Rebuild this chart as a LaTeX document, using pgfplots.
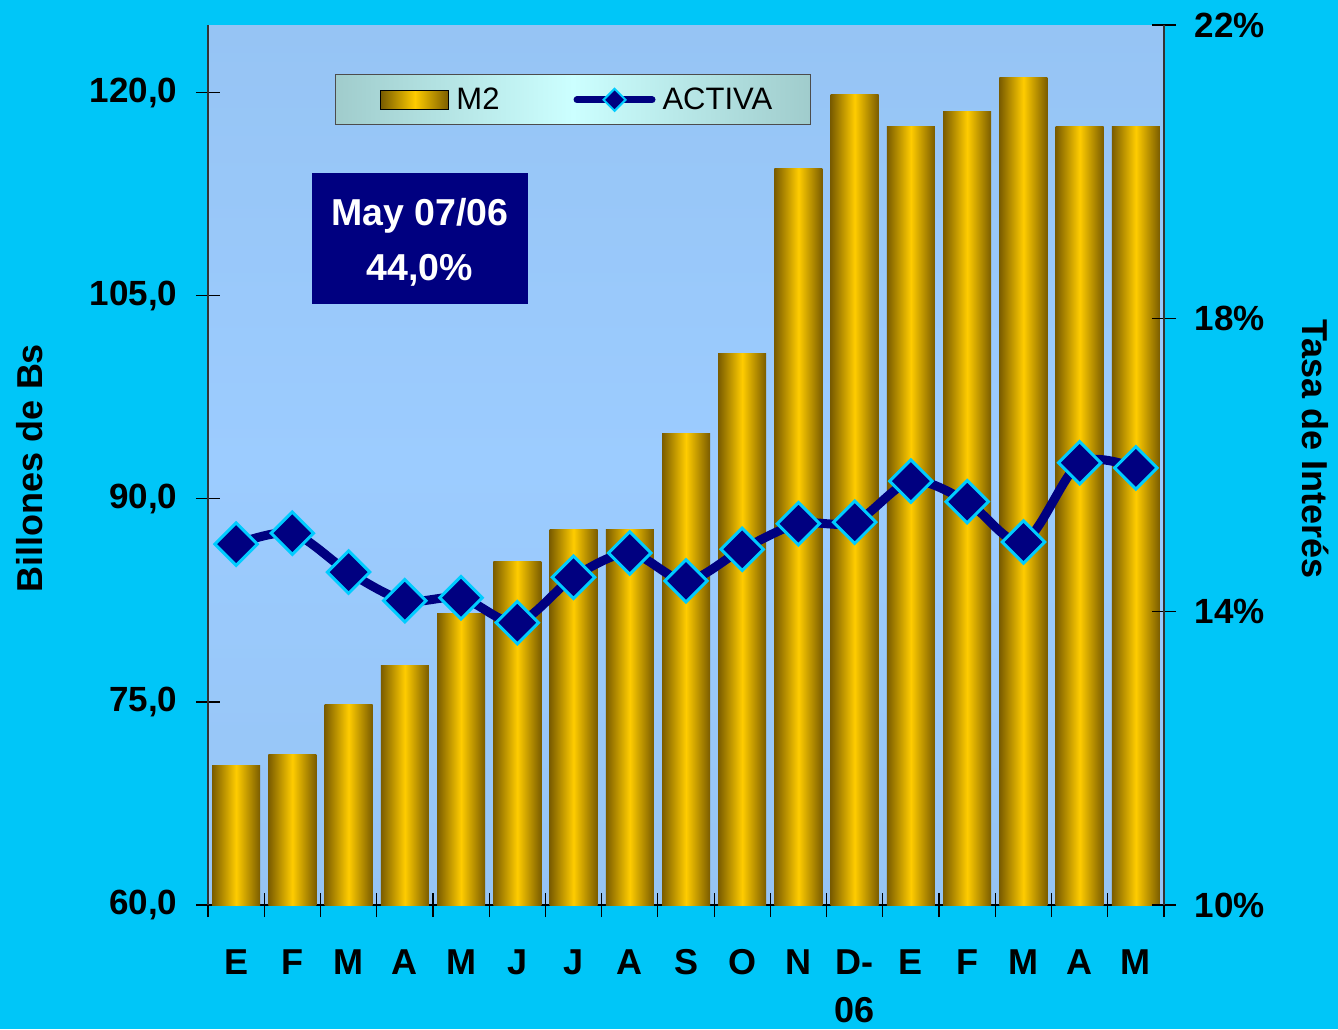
\documentclass[border=0pt]{standalone}
\usepackage{fontspec}
\setmainfont{Liberation Sans}
\usepackage{pgfplots}
\pgfplotsset{compat=1.18}
\definecolor{bgc}{RGB}{0,198,248}
\definecolor{plotA}{RGB}{150,196,244}
\definecolor{plotB}{RGB}{156,204,255}
\definecolor{goldD}{RGB}{122,92,0}
\definecolor{goldL}{RGB}{255,204,0}
\definecolor{navyc}{RGB}{0,0,128}
\definecolor{mkc}{RGB}{0,204,255}
\definecolor{legE}{RGB}{160,204,204}
\definecolor{legM}{RGB}{204,255,255}
\pgfplotsset{gbar/.style={ybar, bar width=48pt, bar shift=0pt, draw=none, left color=goldD, right color=goldD, middle color=goldL, forget plot}}
\begin{document}
\begin{tikzpicture}
\path[use as bounding box, fill=bgc] (-208pt,-124pt) rectangle (1130pt,905pt);
\begin{axis}[
 at={(0pt,0pt)}, anchor=south west,
 scale only axis, width=956pt, height=880pt,
 xmin=-0.5, xmax=16.5, ymin=60, ymax=125,
 axis x line*=bottom, axis y line*=left,
 axis line style={-},
 x axis line style={black, line width=1.2pt},
 y axis line style={black!80, line width=1.2pt},
 axis background/.style={top color=plotA, bottom color=plotA, middle color=plotB},
 tick align=center, major tick length=24pt,
 tick style={black, line width=1.2pt},
 xtick={-0.5,0.5,...,16.5},
 xticklabels={E,F,M,A,M,J,J,A,S,O,N,{D-\\06},E,F,M,A,M,{}},
 xticklabel style={xshift=28.12pt, align=center, anchor=north, yshift=-29pt, font=\fontsize{36}{48}\selectfont\bfseries},
 ytick={60,75,90,105,120},
 yticklabels={{60,0},{75,0},{90,0},{105,0},{120,0}},
 yticklabel style={font=\fontsize{35}{42}\selectfont\bfseries, xshift=-15pt},
 ylabel={Billones de Bs},
 every axis y label/.style={at={(axis description cs:-0.1862,0.4966)}, rotate=90, anchor=center, font=\fontsize{36}{42}\selectfont\bfseries},
]
\addplot[gbar] coordinates {(0,70.3)};
\addplot[gbar] coordinates {(1,71.1)};
\addplot[gbar] coordinates {(2,74.8)};
\addplot[gbar] coordinates {(3,77.7)};
\addplot[gbar] coordinates {(4,81.5)};
\addplot[gbar] coordinates {(5,85.4)};
\addplot[gbar] coordinates {(6,87.7)};
\addplot[gbar] coordinates {(7,87.7)};
\addplot[gbar] coordinates {(8,94.8)};
\addplot[gbar] coordinates {(9,100.7)};
\addplot[gbar] coordinates {(10,114.4)};
\addplot[gbar] coordinates {(11,119.85)};
\addplot[gbar] coordinates {(12,117.5)};
\addplot[gbar] coordinates {(13,118.6)};
\addplot[gbar] coordinates {(14,121.1)};
\addplot[gbar] coordinates {(15,117.5)};
\addplot[gbar] coordinates {(16,117.5)};
\end{axis}
\begin{axis}[
 at={(0pt,0pt)}, anchor=south west,
 scale only axis, width=956pt, height=880pt,
 xmin=-0.5, xmax=16.5, ymin=10, ymax=22,
 axis x line=none, axis y line*=right,
 xtick=\empty,
 axis line style={-},
 y axis line style={black!80, line width=1.2pt},
 tick align=center, major tick length=24pt,
 tick style={black, line width=1.2pt},
 ytick={10,14,18,22},
 yticklabels={10\%,14\%,18\%,22\%},
 yticklabel style={font=\fontsize{35}{42}\selectfont\bfseries, xshift=15pt},
 ylabel={Tasa de Interés},
 every axis y label/.style={at={(axis description cs:1.158,0.518)}, rotate=-90, anchor=center, font=\fontsize{36}{42}\selectfont\bfseries},
 legend columns=2,
 legend style={at={(axis description cs:0.1328,0.944)}, anchor=north west,
   draw=black!70, line width=1pt, left color=legE, right color=legE, middle color=legM,
   font=\fontsize{31}{36}\selectfont, inner xsep=36pt, inner ysep=11.5pt,
   /tikz/every odd column/.append style={column sep=5pt},
   /tikz/every even column/.append style={column sep=72pt}},
]
\addlegendimage{legend image code/.code={\path (0pt,0pt); \fill[left color=goldD,right color=goldD,middle color=goldL] (9pt,-9.5pt) rectangle (77pt,9.5pt);}}
\addlegendentry{M2}
\addplot[navyc, line width=9pt, smooth, mark=square*, mark size=15pt,
  mark options={rotate=45, fill=navyc, draw=mkc, line width=3pt},
  legend image code/.code={\draw[navyc, line width=7pt, line cap=round] (0pt,0pt) -- (75pt,0pt); \filldraw[fill=navyc, draw=mkc, line width=2pt] (37.5pt,11pt) -- (48.5pt,0pt) -- (37.5pt,-11pt) -- (26.5pt,0pt) -- cycle;}]
 coordinates {(0,14.92) (1,15.07) (2,14.54) (3,14.15) (4,14.19) (5,13.85) (6,14.47) (7,14.80) (8,14.42) (9,14.85) (10,15.20) (11,15.22) (12,15.78) (13,15.50) (14,14.95) (15,16.03) (16,15.96)};
\addlegendentry{ACTIVA}
\end{axis}
\node[fill=navyc, minimum width=216pt, minimum height=131pt, inner sep=0pt] at (212pt,666.5pt) {};
\node[text=white, align=center, inner sep=0pt,
  font=\fontsize{37.5}{55}\selectfont\bfseries] at (212pt,662.5pt) {May 07/06\\44,0\%};
\end{tikzpicture}
\end{document}
